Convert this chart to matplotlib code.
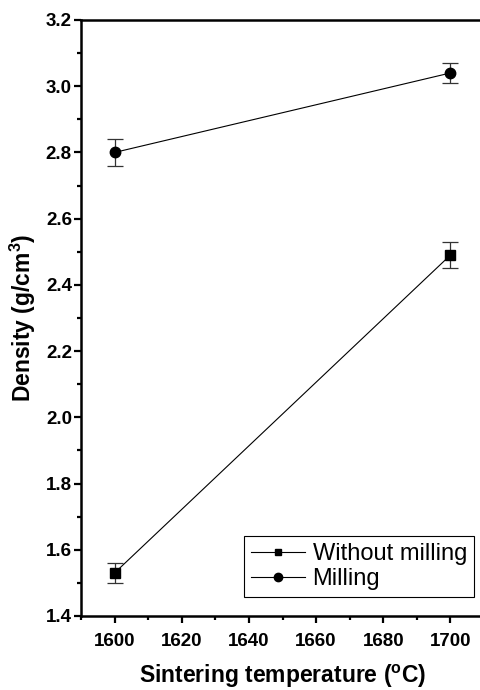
import matplotlib
matplotlib.use("Agg")
import matplotlib.pyplot as plt
from matplotlib.ticker import MultipleLocator, FormatStrFormatter
from matplotlib.lines import Line2D

plt.rcParams['font.family'] = ['Liberation Sans', 'DejaVu Sans']

temps = [1600, 1700]
without_milling = [1.53, 2.49]
without_err = [0.03, 0.04]
milling = [2.80, 3.04]
milling_err = [0.04, 0.03]
series_labels = ['Without milling', 'Milling']

fig = plt.figure(figsize=(4.81, 6.90), dpi=100)
ax = fig.add_axes([81/481, 74/690, 403/481, 596/690])

ax.errorbar(temps, without_milling, yerr=without_err, color='black', marker='s',
            markersize=6.5, linewidth=0.8, ecolor='#333333', elinewidth=0.9,
            capsize=6, capthick=0.9)
ax.errorbar(temps, milling, yerr=milling_err, color='black', marker='o',
            markersize=7.5, linewidth=0.8, ecolor='#333333', elinewidth=0.9,
            capsize=6, capthick=0.9)

ax.set_xlim(1590, 1710)
ax.set_ylim(1.4, 3.2)
ax.xaxis.set_major_locator(MultipleLocator(20))
ax.xaxis.set_minor_locator(MultipleLocator(10))
ax.yaxis.set_major_locator(MultipleLocator(0.2))
ax.yaxis.set_minor_locator(MultipleLocator(0.1))
ax.yaxis.set_major_formatter(FormatStrFormatter('%.1f'))

for s in ax.spines.values():
    s.set_linewidth(1.8)
ax.tick_params(which='major', direction='out', length=5, width=1.6,
               labelsize=13.5)
ax.tick_params(which='minor', direction='out', length=3, width=1.6)
ax.tick_params(axis='x', pad=7)
ax.tick_params(axis='y', pad=1.5)
for lab in ax.get_xticklabels() + ax.get_yticklabels():
    lab.set_fontweight('bold')

ax.set_xlabel('Sintering temperature ($\\mathregular{^o}$C)', fontsize=16.5,
              fontweight='bold', labelpad=9.5)
ax.set_ylabel('Density (g/cm$\\mathregular{^3}$)', fontsize=16.5,
              fontweight='bold', labelpad=6)

handles = [
    Line2D([], [], color='black', marker='s', markersize=5, linewidth=0.8),
    Line2D([], [], color='black', marker='o', markersize=6, linewidth=0.8),
]
leg = fig.legend(handles, series_labels, loc='lower right',
                 bbox_to_anchor=(474/481, 93/690),
                 bbox_transform=fig.transFigure, fontsize=17, frameon=True,
                 fancybox=False, edgecolor='black', handlelength=2.3,
                 borderpad=0.3, labelspacing=0.12, handletextpad=0.3,
                 borderaxespad=0, framealpha=1)
leg.get_frame().set_linewidth(0.8)

fig.savefig('out.png', dpi=100)
